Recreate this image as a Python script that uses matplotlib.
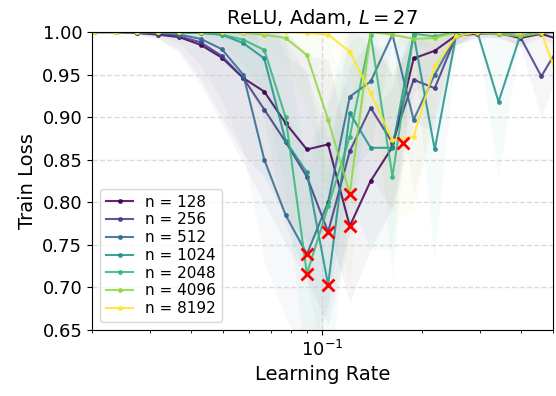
import matplotlib
matplotlib.use("Agg")
import matplotlib.pyplot as plt
import numpy as np

# learning rate grid
learning_rates = [0.0203, 0.0236, 0.0274, 0.0317, 0.0368, 0.0427, 0.0495, 0.0575,
                  0.0666, 0.0773, 0.0897, 0.104, 0.121, 0.140, 0.163, 0.189,
                  0.219, 0.254, 0.295, 0.342, 0.397, 0.461, 0.535]

widths = [128, 256, 512, 1024, 2048, 4096, 8192]

loss_128 = [1.000, 1.000, 0.999, 0.997, 0.994, 0.985, 0.970, 0.946, 0.930, 0.893, 0.862, 0.868,
            0.772, 0.825, 0.865, 0.969, 0.978, 0.996, 0.998, 0.999, 0.993, 0.998, 0.990]
loss_256 = [1.000, 1.000, 0.999, 0.998, 0.995, 0.988, 0.972, 0.946, 0.909, 0.871, 0.830, 0.765,
            0.860, 0.911, 0.870, 0.944, 0.934, 0.995, 1.000, 0.998, 0.995, 0.948, 0.990]
loss_512 = [1.000, 1.000, 1.000, 0.999, 0.997, 0.992, 0.980, 0.950, 0.850, 0.785, 0.739, 0.800,
            0.924, 0.942, 0.997, 0.897, 0.950, 0.995, 1.000, 0.999, 1.000, 0.999, 1.000]
loss_1024 = [1.000, 1.000, 1.000, 1.000, 0.999, 0.999, 0.997, 0.987, 0.969, 0.872, 0.835, 0.703,
             0.905, 0.864, 0.864, 0.997, 0.862, 0.995, 1.000, 0.918, 0.995, 1.000, 1.000]
loss_2048 = [1.000, 1.000, 1.000, 1.000, 1.000, 0.999, 0.997, 0.991, 0.979, 0.900, 0.716, 0.795,
             0.877, 0.997, 0.830, 0.998, 0.995, 1.000, 1.000, 0.999, 1.000, 1.000, 1.000]
loss_4096 = [1.000, 1.000, 1.000, 1.000, 1.000, 1.000, 1.000, 0.999, 0.997, 0.993, 0.973, 0.897,
             0.810, 1.000, 0.997, 0.992, 0.993, 1.000, 0.999, 0.998, 0.995, 0.999, 1.000]
loss_8192 = [1.000, 1.000, 1.000, 1.000, 1.000, 1.000, 1.000, 1.000, 1.000, 1.000, 0.999, 0.997,
             0.977, 0.928, 0.873, 0.877, 0.960, 0.995, 1.000, 1.000, 1.000, 1.000, 0.930]

# spread across seeds (shaded band)
std_128 = [0.0, 0.0, 0.002, 0.005, 0.015, 0.04, 0.07, 0.09, 0.10, 0.11, 0.11, 0.10,
           0.09, 0.08, 0.07, 0.04, 0.03, 0.01, 0.005, 0.005, 0.01, 0.005, 0.01]
std_256 = [0.0, 0.0, 0.002, 0.005, 0.02, 0.05, 0.08, 0.10, 0.11, 0.12, 0.12, 0.11,
           0.10, 0.08, 0.08, 0.05, 0.05, 0.01, 0.005, 0.005, 0.01, 0.05, 0.02]
std_512 = [0.0, 0.0, 0.0, 0.003, 0.01, 0.03, 0.06, 0.09, 0.12, 0.12, 0.12, 0.12,
           0.09, 0.08, 0.01, 0.09, 0.05, 0.01, 0.0, 0.005, 0.0, 0.005, 0.0]
std_1024 = [0.0, 0.0, 0.0, 0.0, 0.003, 0.005, 0.02, 0.04, 0.07, 0.10, 0.12, 0.13,
            0.10, 0.12, 0.12, 0.01, 0.13, 0.02, 0.0, 0.09, 0.01, 0.0, 0.0]
std_2048 = [0.0, 0.0, 0.0, 0.0, 0.0, 0.003, 0.01, 0.03, 0.05, 0.09, 0.12, 0.12,
            0.11, 0.01, 0.12, 0.01, 0.01, 0.0, 0.0, 0.0, 0.0, 0.0, 0.0]
std_4096 = [0.0, 0.0, 0.0, 0.0, 0.0, 0.0, 0.0, 0.002, 0.01, 0.03, 0.06, 0.09,
            0.11, 0.01, 0.01, 0.01, 0.01, 0.0, 0.0, 0.0, 0.01, 0.0, 0.0]
std_8192 = [0.0, 0.0, 0.0, 0.0, 0.0, 0.0, 0.0, 0.0, 0.0, 0.0, 0.003, 0.01,
            0.03, 0.06, 0.09, 0.09, 0.05, 0.01, 0.0, 0.0, 0.0, 0.0, 0.05]

# best learning rate per width (red crosses)
opt_lr = [0.121, 0.104, 0.0897, 0.104, 0.0897, 0.121, 0.176]
opt_loss = [0.772, 0.765, 0.739, 0.703, 0.716, 0.810, 0.870]

losses = [loss_128, loss_256, loss_512, loss_1024, loss_2048, loss_4096, loss_8192]
stds = [std_128, std_256, std_512, std_1024, std_2048, std_4096, std_8192]

fig = plt.figure(figsize=(5.56, 3.96), dpi=100)
ax = fig.add_axes([0.1655, 0.167, 0.829, 0.752])

colors = plt.cm.viridis(np.linspace(0, 1, len(widths)))
lr = np.array(learning_rates)
for n, loss, std, c in zip(widths, losses, stds, colors):
    loss = np.array(loss)
    std = np.array(std)
    ax.fill_between(lr, loss - std, loss + std, color=c, alpha=0.045, lw=0)
    ax.plot(lr, loss, color=c, lw=1.5, alpha=0.85, marker='o', ms=2.5, label=f"n = {n}")

ax.plot(opt_lr, opt_loss, 'x', color='red', ms=9, mew=2, zorder=10)

ax.set_xscale('log')
ax.set_xlim(0.02, 0.5)
ax.set_ylim(0.65, 1.0)
ax.set_yticks([0.65, 0.70, 0.75, 0.80, 0.85, 0.90, 0.95, 1.00])
ax.grid(True, which='major', ls='--', color='#cccccc', lw=1, alpha=0.7)
ax.tick_params(labelsize=13)
ax.set_xlabel("Learning Rate", fontsize=14)
ax.set_ylabel("Train Loss", fontsize=14)
ax.set_title("ReLU, Adam, $L = 27$", fontsize=14)
ax.legend(loc='lower left', fontsize=11, handlelength=1.8, labelspacing=0.18,
          borderpad=0.4, handletextpad=0.8)

fig.savefig("out.png", dpi=100)
